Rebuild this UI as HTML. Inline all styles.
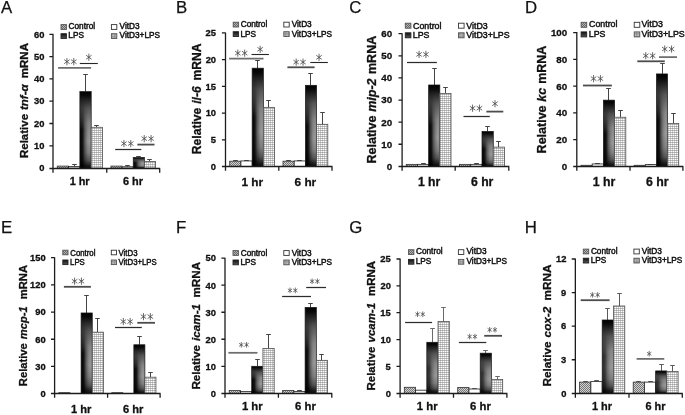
<!DOCTYPE html>
<html><head><meta charset="utf-8"><title>Figure</title>
<style>html,body{margin:0;padding:0;background:#fff}svg{display:block;will-change:transform;opacity:.999}text{white-space:pre}</style>
</head><body>
<svg width="685" height="415" viewBox="0 0 685 415">
<rect width="685" height="415" fill="#fff"/>
<defs>
<pattern id="pc" width="2" height="2" patternUnits="userSpaceOnUse"><rect width="2" height="2" fill="#d2d2d2"/><rect width="1" height="1" fill="#767676"/><rect x="1" y="1" width="1" height="1" fill="#767676"/></pattern>
<pattern id="pcl" width="2" height="2" patternUnits="userSpaceOnUse"><rect width="2" height="2" fill="#b4b4b4"/><rect width="1" height="1" fill="#666"/><rect x="1" y="1" width="1" height="1" fill="#666"/></pattern>
<pattern id="pg" width="2" height="2" patternUnits="userSpaceOnUse"><rect width="2" height="2" fill="#fff"/><rect width="2" height="1" fill="#bcbcbc"/><rect width="1" height="2" fill="#cecece"/><rect width="1" height="1" fill="#a4a4a4"/></pattern>
<pattern id="pgl" width="1.5" height="1.5" patternUnits="userSpaceOnUse"><rect width="1.5" height="1.5" fill="#ccc"/><rect width="1.5" height="0.6" fill="#8a8a8a"/><rect width="0.6" height="1.5" fill="#8a8a8a"/></pattern>
<linearGradient id="gv" x1="0" y1="0" x2="0" y2="1"><stop offset="0" stop-color="#000"/><stop offset="0.05" stop-color="#0a0a0a"/><stop offset="0.22" stop-color="#555"/><stop offset="0.42" stop-color="#868686"/><stop offset="0.65" stop-color="#989898"/><stop offset="0.8" stop-color="#808080"/><stop offset="0.9" stop-color="#555"/><stop offset="0.96" stop-color="#222"/><stop offset="1" stop-color="#0a0a0a"/></linearGradient>
<linearGradient id="gd" x1="0" y1="0" x2="1" y2="0"><stop offset="0" stop-color="#000" stop-opacity="1"/><stop offset="0.25" stop-color="#000" stop-opacity="0.85"/><stop offset="0.45" stop-color="#000" stop-opacity="0.38"/><stop offset="0.65" stop-color="#000" stop-opacity="0.1"/><stop offset="0.8" stop-color="#000" stop-opacity="0"/></linearGradient>
<linearGradient id="mkg" x1="0" y1="0" x2="0" y2="1"><stop offset="0.05" stop-color="#000"/><stop offset="0.5" stop-color="#fff"/></linearGradient>
<mask id="mk" maskContentUnits="objectBoundingBox"><rect width="1" height="1" fill="url(#mkg)"/></mask>
<linearGradient id="gl" x1="0" y1="0" x2="0" y2="1"><stop offset="0" stop-color="#111"/><stop offset="1" stop-color="#555"/></linearGradient>
</defs>
<text x="1.02" y="12.89" style="font-family:'Liberation Sans',sans-serif;font-size:16.8px" fill="#111" stroke="#111" stroke-width="0.25">A</text>
<text transform="translate(28.2,100.55) rotate(-90)" text-anchor="middle" xml:space="preserve" style="font-family:'Liberation Sans',sans-serif;font-weight:bold;font-size:11.5px" fill="#111" stroke="#111" stroke-width="0.3"><tspan>Relative </tspan><tspan font-style="italic" dx="0.74">tnf-α</tspan><tspan dx="2.95"> mRNA</tspan></text>
<rect x="57.24" y="166.09" width="11.32" height="2.01" fill="url(#pc)" stroke="#333" stroke-width="0.8"/>
<path d="M74.5 166.54 V164.5 M72.2 164.5 H76.8" stroke="#444" stroke-width="1" fill="none"/>
<rect x="68.56" y="166.54" width="11.32" height="1.56" fill="#fff" stroke="#222" stroke-width="0.8"/>
<path d="M85.5 91.61 V74.5 M83.2 74.5 H87.8" stroke="#444" stroke-width="1" fill="none"/>
<rect x="79.88" y="91.61" width="11.32" height="76.49" fill="url(#gv)"/>
<rect x="79.88" y="91.61" width="11.32" height="76.49" fill="url(#gd)" mask="url(#mk)" opacity="1"/>
<rect x="79.88" y="91.61" width="11.32" height="76.49" fill="none" stroke="#161616" stroke-width="0.7"/>
<path d="M96.5 127.29 V125.5 M94.2 125.5 H98.8" stroke="#444" stroke-width="1" fill="none"/>
<rect x="91.19" y="127.29" width="11.32" height="40.81" fill="url(#pg)" stroke="#505050" stroke-width="0.8"/>
<rect x="110.93" y="166.09" width="11.15" height="2.01" fill="url(#pc)" stroke="#333" stroke-width="0.8"/>
<path d="M127.5 166.76 V165.5 M125.2 165.5 H129.8" stroke="#444" stroke-width="1" fill="none"/>
<rect x="122.08" y="166.76" width="11.15" height="1.34" fill="#fff" stroke="#222" stroke-width="0.8"/>
<path d="M138.5 157.51 V156.5 M136.2 156.5 H140.8" stroke="#444" stroke-width="1" fill="none"/>
<rect x="133.22" y="157.51" width="11.15" height="10.59" fill="url(#gv)"/>
<rect x="133.22" y="157.51" width="11.15" height="10.59" fill="url(#gd)" mask="url(#mk)" opacity="1"/>
<rect x="133.22" y="157.51" width="11.15" height="10.59" fill="none" stroke="#161616" stroke-width="0.7"/>
<path d="M149.5 161.41 V159.5 M147.2 159.5 H151.8" stroke="#444" stroke-width="1" fill="none"/>
<rect x="144.37" y="161.41" width="11.15" height="6.69" fill="url(#pg)" stroke="#505050" stroke-width="0.8"/>
<path d="M53 33.8 V168.5 H160.2 M49.4 168.5 H53 M49.4 145.8 H53 M49.4 123.5 H53 M49.4 101.2 H53 M49.4 78.9 H53 M49.4 56.6 H53 M49.4 34.3 H53 M53 168.5 V172.8 M106.75 168.5 V172.8 M159.7 168.5 V172.8" stroke="#1c1c1c" stroke-width="1.3" fill="none"/>
<text x="39.26" y="171.39" style="font-family:'Liberation Sans',sans-serif;font-weight:bold;font-size:9.4px" fill="#111" stroke="#111" stroke-width="0.3">0</text>
<text x="34.04" y="149.09" style="font-family:'Liberation Sans',sans-serif;font-weight:bold;font-size:9.4px" fill="#111" stroke="#111" stroke-width="0.3">10</text>
<text x="34.04" y="126.79" style="font-family:'Liberation Sans',sans-serif;font-weight:bold;font-size:9.4px" fill="#111" stroke="#111" stroke-width="0.3">20</text>
<text x="34.04" y="104.49" style="font-family:'Liberation Sans',sans-serif;font-weight:bold;font-size:9.4px" fill="#111" stroke="#111" stroke-width="0.3">30</text>
<text x="34.04" y="82.19" style="font-family:'Liberation Sans',sans-serif;font-weight:bold;font-size:9.4px" fill="#111" stroke="#111" stroke-width="0.3">40</text>
<text x="34.04" y="59.89" style="font-family:'Liberation Sans',sans-serif;font-weight:bold;font-size:9.4px" fill="#111" stroke="#111" stroke-width="0.3">50</text>
<text x="34.04" y="37.59" style="font-family:'Liberation Sans',sans-serif;font-weight:bold;font-size:9.4px" fill="#111" stroke="#111" stroke-width="0.3">60</text>
<text x="69.63" y="185.1" style="font-family:'Liberation Sans',sans-serif;font-weight:bold;font-size:10.9px" fill="#111" stroke="#111" stroke-width="0.3">1 hr</text>
<text x="122.99" y="185.1" style="font-family:'Liberation Sans',sans-serif;font-weight:bold;font-size:10.9px" fill="#111" stroke="#111" stroke-width="0.3">6 hr</text>
<rect x="61" y="24.6" width="5.4" height="4.8" fill="url(#pcl)" stroke="#555" stroke-width="0.9"/>
<text x="68.59" y="29.3" style="font-family:'Liberation Sans',sans-serif;font-size:8.26px" fill="#111" stroke="#111" stroke-width="0.45">Control</text>
<rect x="111.4" y="24.6" width="5.4" height="4.8" fill="#fff" stroke="#333" stroke-width="0.9"/>
<text x="119.56" y="29.3" style="font-family:'Liberation Sans',sans-serif;font-size:8.26px" fill="#111" stroke="#111" stroke-width="0.45">VitD3</text>
<rect x="61" y="33.7" width="5.4" height="4.8" fill="url(#gl)" stroke="#222" stroke-width="0.9"/>
<text x="68.34" y="38.4" style="font-family:'Liberation Sans',sans-serif;font-size:8.26px" fill="#111" stroke="#111" stroke-width="0.45">LPS</text>
<rect x="111.4" y="33.7" width="5.4" height="4.8" fill="url(#pgl)" stroke="#555" stroke-width="0.9"/>
<text x="119.56" y="38.4" style="font-family:'Liberation Sans',sans-serif;font-size:8.26px" fill="#111" stroke="#111" stroke-width="0.45">VitD3+LPS</text>
<line x1="58.1" y1="67.85" x2="91.1" y2="67.85" stroke="#6e6e6e" stroke-width="1.75"/>
<line x1="66.92" y1="58.45" x2="66.92" y2="64.85" stroke="#484848" stroke-width="0.82" stroke-linecap="round"/><line x1="64.52" y1="59.9" x2="69.33" y2="63.4" stroke="#484848" stroke-width="0.82" stroke-linecap="round"/><line x1="69.33" y1="59.9" x2="64.52" y2="63.4" stroke="#484848" stroke-width="0.82" stroke-linecap="round"/>
<line x1="73.77" y1="58.45" x2="73.77" y2="64.85" stroke="#484848" stroke-width="0.82" stroke-linecap="round"/><line x1="71.37" y1="59.9" x2="76.18" y2="63.4" stroke="#484848" stroke-width="0.82" stroke-linecap="round"/><line x1="76.18" y1="59.9" x2="71.37" y2="63.4" stroke="#484848" stroke-width="0.82" stroke-linecap="round"/>
<line x1="79.8" y1="63.5" x2="97.8" y2="63.5" stroke="#262626" stroke-width="1.1"/>
<line x1="88.85" y1="54.05" x2="88.85" y2="60.45" stroke="#484848" stroke-width="0.82" stroke-linecap="round"/><line x1="86.44" y1="55.5" x2="91.26" y2="59" stroke="#484848" stroke-width="0.82" stroke-linecap="round"/><line x1="91.26" y1="55.5" x2="86.44" y2="59" stroke="#484848" stroke-width="0.82" stroke-linecap="round"/>
<line x1="115.2" y1="149.5" x2="141.3" y2="149.5" stroke="#2c2c2c" stroke-width="1.25"/>
<line x1="123.92" y1="140.35" x2="123.92" y2="146.75" stroke="#484848" stroke-width="0.82" stroke-linecap="round"/><line x1="121.52" y1="141.8" x2="126.33" y2="145.3" stroke="#484848" stroke-width="0.82" stroke-linecap="round"/><line x1="126.33" y1="141.8" x2="121.52" y2="145.3" stroke="#484848" stroke-width="0.82" stroke-linecap="round"/>
<line x1="130.78" y1="140.35" x2="130.78" y2="146.75" stroke="#484848" stroke-width="0.82" stroke-linecap="round"/><line x1="128.37" y1="141.8" x2="133.18" y2="145.3" stroke="#484848" stroke-width="0.82" stroke-linecap="round"/><line x1="133.18" y1="141.8" x2="128.37" y2="145.3" stroke="#484848" stroke-width="0.82" stroke-linecap="round"/>
<line x1="137.4" y1="144.6" x2="154.5" y2="144.6" stroke="#4c4c4c" stroke-width="1.8"/>
<line x1="144.22" y1="135.45" x2="144.22" y2="141.85" stroke="#484848" stroke-width="0.82" stroke-linecap="round"/><line x1="141.82" y1="136.9" x2="146.63" y2="140.4" stroke="#484848" stroke-width="0.82" stroke-linecap="round"/><line x1="146.63" y1="136.9" x2="141.82" y2="140.4" stroke="#484848" stroke-width="0.82" stroke-linecap="round"/>
<line x1="151.08" y1="135.45" x2="151.08" y2="141.85" stroke="#484848" stroke-width="0.82" stroke-linecap="round"/><line x1="148.67" y1="136.9" x2="153.48" y2="140.4" stroke="#484848" stroke-width="0.82" stroke-linecap="round"/><line x1="153.48" y1="136.9" x2="148.67" y2="140.4" stroke="#484848" stroke-width="0.82" stroke-linecap="round"/>
<text x="176.06" y="12.89" style="font-family:'Liberation Sans',sans-serif;font-size:16.8px" fill="#111" stroke="#111" stroke-width="0.25">B</text>
<text transform="translate(200.7,98.8) rotate(-90)" text-anchor="middle" xml:space="preserve" style="font-family:'Liberation Sans',sans-serif;font-weight:bold;font-size:12.1px" fill="#111" stroke="#111" stroke-width="0.3"><tspan>Relative </tspan><tspan font-style="italic" dx="0.63">il-6</tspan><tspan dx="2.51"> mRNA</tspan></text>
<path d="M235.5 161.2 V160.5 M233.2 160.5 H237.8" stroke="#444" stroke-width="1" fill="none"/>
<rect x="229.71" y="161.2" width="11.22" height="5.35" fill="url(#pc)" stroke="#333" stroke-width="0.8"/>
<path d="M246.5 160.94 V160.5 M244.2 160.5 H248.8" stroke="#444" stroke-width="1" fill="none"/>
<rect x="240.93" y="160.94" width="11.22" height="5.61" fill="#fff" stroke="#222" stroke-width="0.8"/>
<path d="M257.5 68.18 V60.5 M255.2 60.5 H259.8" stroke="#444" stroke-width="1" fill="none"/>
<rect x="252.15" y="68.18" width="11.22" height="98.37" fill="url(#gv)"/>
<rect x="252.15" y="68.18" width="11.22" height="98.37" fill="url(#gd)" mask="url(#mk)" opacity="1"/>
<rect x="252.15" y="68.18" width="11.22" height="98.37" fill="none" stroke="#161616" stroke-width="0.7"/>
<path d="M268.5 107.37 V100.5 M266.2 100.5 H270.8" stroke="#444" stroke-width="1" fill="none"/>
<rect x="263.37" y="107.37" width="11.22" height="59.18" fill="url(#pg)" stroke="#505050" stroke-width="0.8"/>
<path d="M288.5 161.2 V160.5 M286.2 160.5 H290.8" stroke="#444" stroke-width="1" fill="none"/>
<rect x="283" y="161.2" width="11.2" height="5.35" fill="url(#pc)" stroke="#333" stroke-width="0.8"/>
<path d="M299.5 160.94 V160.5 M297.2 160.5 H301.8" stroke="#444" stroke-width="1" fill="none"/>
<rect x="294.2" y="160.94" width="11.2" height="5.61" fill="#fff" stroke="#222" stroke-width="0.8"/>
<path d="M310.5 85.29 V73.5 M308.2 73.5 H312.8" stroke="#444" stroke-width="1" fill="none"/>
<rect x="305.4" y="85.29" width="11.2" height="81.26" fill="url(#gv)"/>
<rect x="305.4" y="85.29" width="11.2" height="81.26" fill="url(#gd)" mask="url(#mk)" opacity="1"/>
<rect x="305.4" y="85.29" width="11.2" height="81.26" fill="none" stroke="#161616" stroke-width="0.7"/>
<path d="M322.5 124.32 V112.5 M320.2 112.5 H324.8" stroke="#444" stroke-width="1" fill="none"/>
<rect x="316.6" y="124.32" width="11.2" height="42.23" fill="url(#pg)" stroke="#505050" stroke-width="0.8"/>
<path d="M225.5 32.4 V166.5 H332.5 M221.9 166.5 H225.5 M221.9 139.82 H225.5 M221.9 113.09 H225.5 M221.9 86.36 H225.5 M221.9 59.63 H225.5 M221.9 32.9 H225.5 M225.5 166.5 V170.8 M278.8 166.5 V170.8 M332 166.5 V170.8" stroke="#1c1c1c" stroke-width="1.3" fill="none"/>
<text x="210.86" y="169.84" style="font-family:'Liberation Sans',sans-serif;font-weight:bold;font-size:9.4px" fill="#111" stroke="#111" stroke-width="0.3">0</text>
<text x="210.72" y="143.11" style="font-family:'Liberation Sans',sans-serif;font-weight:bold;font-size:9.4px" fill="#111" stroke="#111" stroke-width="0.3">5</text>
<text x="205.64" y="116.38" style="font-family:'Liberation Sans',sans-serif;font-weight:bold;font-size:9.4px" fill="#111" stroke="#111" stroke-width="0.3">10</text>
<text x="205.5" y="89.65" style="font-family:'Liberation Sans',sans-serif;font-weight:bold;font-size:9.4px" fill="#111" stroke="#111" stroke-width="0.3">15</text>
<text x="205.64" y="62.92" style="font-family:'Liberation Sans',sans-serif;font-weight:bold;font-size:9.4px" fill="#111" stroke="#111" stroke-width="0.3">20</text>
<text x="205.5" y="36.19" style="font-family:'Liberation Sans',sans-serif;font-weight:bold;font-size:9.4px" fill="#111" stroke="#111" stroke-width="0.3">25</text>
<text x="241.48" y="186.16" style="font-family:'Liberation Sans',sans-serif;font-weight:bold;font-size:11.8px" fill="#111" stroke="#111" stroke-width="0.3">1 hr</text>
<text x="294.56" y="186.16" style="font-family:'Liberation Sans',sans-serif;font-weight:bold;font-size:11.8px" fill="#111" stroke="#111" stroke-width="0.3">6 hr</text>
<rect x="233.2" y="22.2" width="5.4" height="4.8" fill="url(#pcl)" stroke="#555" stroke-width="0.9"/>
<text x="240.69" y="26.9" style="font-family:'Liberation Sans',sans-serif;font-size:8.26px" fill="#111" stroke="#111" stroke-width="0.45">Control</text>
<rect x="283.8" y="22.2" width="5.4" height="4.8" fill="#fff" stroke="#333" stroke-width="0.9"/>
<text x="291.66" y="26.9" style="font-family:'Liberation Sans',sans-serif;font-size:8.26px" fill="#111" stroke="#111" stroke-width="0.45">VitD3</text>
<rect x="233.2" y="31.7" width="5.4" height="4.8" fill="url(#gl)" stroke="#222" stroke-width="0.9"/>
<text x="240.44" y="36.5" style="font-family:'Liberation Sans',sans-serif;font-size:8.26px" fill="#111" stroke="#111" stroke-width="0.45">LPS</text>
<rect x="283.8" y="31.7" width="5.4" height="4.8" fill="url(#pgl)" stroke="#555" stroke-width="0.9"/>
<text x="291.66" y="36.5" style="font-family:'Liberation Sans',sans-serif;font-size:8.26px" fill="#111" stroke="#111" stroke-width="0.45">VitD3+LPS</text>
<line x1="229.1" y1="58.7" x2="263.5" y2="58.7" stroke="#6e6e6e" stroke-width="1.75"/>
<line x1="237.82" y1="49.95" x2="237.82" y2="56.35" stroke="#484848" stroke-width="0.82" stroke-linecap="round"/><line x1="235.42" y1="51.4" x2="240.23" y2="54.9" stroke="#484848" stroke-width="0.82" stroke-linecap="round"/><line x1="240.23" y1="51.4" x2="235.42" y2="54.9" stroke="#484848" stroke-width="0.82" stroke-linecap="round"/>
<line x1="244.68" y1="49.95" x2="244.68" y2="56.35" stroke="#484848" stroke-width="0.82" stroke-linecap="round"/><line x1="242.27" y1="51.4" x2="247.08" y2="54.9" stroke="#484848" stroke-width="0.82" stroke-linecap="round"/><line x1="247.08" y1="51.4" x2="242.27" y2="54.9" stroke="#484848" stroke-width="0.82" stroke-linecap="round"/>
<line x1="251.5" y1="54.5" x2="268.9" y2="54.5" stroke="#262626" stroke-width="1.1"/>
<line x1="260.15" y1="46.1" x2="260.15" y2="52.5" stroke="#484848" stroke-width="0.82" stroke-linecap="round"/><line x1="257.74" y1="47.55" x2="262.56" y2="51.05" stroke="#484848" stroke-width="0.82" stroke-linecap="round"/><line x1="262.56" y1="47.55" x2="257.74" y2="51.05" stroke="#484848" stroke-width="0.82" stroke-linecap="round"/>
<line x1="287.4" y1="67.3" x2="314.6" y2="67.3" stroke="#4c4c4c" stroke-width="1.8"/>
<line x1="296.18" y1="58.95" x2="296.18" y2="65.35" stroke="#484848" stroke-width="0.82" stroke-linecap="round"/><line x1="293.77" y1="60.4" x2="298.58" y2="63.9" stroke="#484848" stroke-width="0.82" stroke-linecap="round"/><line x1="298.58" y1="60.4" x2="293.77" y2="63.9" stroke="#484848" stroke-width="0.82" stroke-linecap="round"/>
<line x1="303.03" y1="58.95" x2="303.03" y2="65.35" stroke="#484848" stroke-width="0.82" stroke-linecap="round"/><line x1="300.62" y1="60.4" x2="305.43" y2="63.9" stroke="#484848" stroke-width="0.82" stroke-linecap="round"/><line x1="305.43" y1="60.4" x2="300.62" y2="63.9" stroke="#484848" stroke-width="0.82" stroke-linecap="round"/>
<line x1="310.3" y1="62.5" x2="327.9" y2="62.5" stroke="#262626" stroke-width="1.1"/>
<line x1="319.05" y1="54.15" x2="319.05" y2="60.55" stroke="#484848" stroke-width="0.82" stroke-linecap="round"/><line x1="316.64" y1="55.6" x2="321.46" y2="59.1" stroke="#484848" stroke-width="0.82" stroke-linecap="round"/><line x1="321.46" y1="55.6" x2="316.64" y2="59.1" stroke="#484848" stroke-width="0.82" stroke-linecap="round"/>
<text x="349.16" y="12.86" style="font-family:'Liberation Sans',sans-serif;font-size:16.8px" fill="#111" stroke="#111" stroke-width="0.25">C</text>
<text transform="translate(376.2,99.65) rotate(-90)" text-anchor="middle" xml:space="preserve" style="font-family:'Liberation Sans',sans-serif;font-weight:bold;font-size:12.5px" fill="#111" stroke="#111" stroke-width="0.3"><tspan>Relative </tspan><tspan font-style="italic" dx="0.25">mip-2</tspan><tspan dx="1"> mRNA</tspan></text>
<rect x="406.29" y="164.36" width="11.18" height="1.99" fill="url(#pc)" stroke="#333" stroke-width="0.8"/>
<path d="M423.5 164.36 V163.5 M421.2 163.5 H425.8" stroke="#444" stroke-width="1" fill="none"/>
<rect x="417.47" y="164.36" width="11.18" height="1.99" fill="#fff" stroke="#222" stroke-width="0.8"/>
<path d="M434.5 84.99 V68.5 M432.2 68.5 H436.8" stroke="#444" stroke-width="1" fill="none"/>
<rect x="428.65" y="84.99" width="11.18" height="81.36" fill="url(#gv)"/>
<rect x="428.65" y="84.99" width="11.18" height="81.36" fill="url(#gd)" mask="url(#mk)" opacity="1"/>
<rect x="428.65" y="84.99" width="11.18" height="81.36" fill="none" stroke="#161616" stroke-width="0.7"/>
<path d="M445.5 93.39 V87.5 M443.2 87.5 H447.8" stroke="#444" stroke-width="1" fill="none"/>
<rect x="439.83" y="93.39" width="11.18" height="72.96" fill="url(#pg)" stroke="#505050" stroke-width="0.8"/>
<rect x="459.43" y="164.36" width="11.28" height="1.99" fill="url(#pc)" stroke="#333" stroke-width="0.8"/>
<path d="M476.5 164.36 V163.5 M474.2 163.5 H478.8" stroke="#444" stroke-width="1" fill="none"/>
<rect x="470.72" y="164.36" width="11.28" height="1.99" fill="#fff" stroke="#222" stroke-width="0.8"/>
<path d="M487.5 131.42 V126.5 M485.2 126.5 H489.8" stroke="#444" stroke-width="1" fill="none"/>
<rect x="482" y="131.42" width="11.28" height="34.93" fill="url(#gv)"/>
<rect x="482" y="131.42" width="11.28" height="34.93" fill="url(#gd)" mask="url(#mk)" opacity="1"/>
<rect x="482" y="131.42" width="11.28" height="34.93" fill="none" stroke="#161616" stroke-width="0.7"/>
<path d="M498.5 147.12 V141.5 M496.2 141.5 H500.8" stroke="#444" stroke-width="1" fill="none"/>
<rect x="493.28" y="147.12" width="11.28" height="19.23" fill="url(#pg)" stroke="#505050" stroke-width="0.8"/>
<path d="M402.1 33.2 V166.5 H509.3 M398.5 166.5 H402.1 M398.5 144.24 H402.1 M398.5 122.13 H402.1 M398.5 100.03 H402.1 M398.5 77.92 H402.1 M398.5 55.81 H402.1 M398.5 33.7 H402.1 M402.1 166.5 V170.8 M455.2 166.5 V170.8 M508.8 166.5 V170.8" stroke="#1c1c1c" stroke-width="1.3" fill="none"/>
<text x="386.75" y="169.78" style="font-family:'Liberation Sans',sans-serif;font-weight:bold;font-size:9.8px" fill="#111" stroke="#111" stroke-width="0.3">0</text>
<text x="381.31" y="147.67" style="font-family:'Liberation Sans',sans-serif;font-weight:bold;font-size:9.8px" fill="#111" stroke="#111" stroke-width="0.3">10</text>
<text x="381.31" y="125.56" style="font-family:'Liberation Sans',sans-serif;font-weight:bold;font-size:9.8px" fill="#111" stroke="#111" stroke-width="0.3">20</text>
<text x="381.31" y="103.46" style="font-family:'Liberation Sans',sans-serif;font-weight:bold;font-size:9.8px" fill="#111" stroke="#111" stroke-width="0.3">30</text>
<text x="381.31" y="81.35" style="font-family:'Liberation Sans',sans-serif;font-weight:bold;font-size:9.8px" fill="#111" stroke="#111" stroke-width="0.3">40</text>
<text x="381.31" y="59.24" style="font-family:'Liberation Sans',sans-serif;font-weight:bold;font-size:9.8px" fill="#111" stroke="#111" stroke-width="0.3">50</text>
<text x="381.31" y="37.13" style="font-family:'Liberation Sans',sans-serif;font-weight:bold;font-size:9.8px" fill="#111" stroke="#111" stroke-width="0.3">60</text>
<text x="417.9" y="186.15" style="font-family:'Liberation Sans',sans-serif;font-weight:bold;font-size:12.2px" fill="#111" stroke="#111" stroke-width="0.3">1 hr</text>
<text x="470.98" y="186.15" style="font-family:'Liberation Sans',sans-serif;font-weight:bold;font-size:12.2px" fill="#111" stroke="#111" stroke-width="0.3">6 hr</text>
<rect x="405.3" y="23.2" width="5.6" height="5" fill="url(#pcl)" stroke="#555" stroke-width="0.9"/>
<text x="413.06" y="28.5" style="font-family:'Liberation Sans',sans-serif;font-size:8.82px" fill="#111" stroke="#111" stroke-width="0.45">Control</text>
<rect x="458.5" y="23.2" width="5.6" height="5" fill="#fff" stroke="#333" stroke-width="0.9"/>
<text x="466.36" y="28.5" style="font-family:'Liberation Sans',sans-serif;font-size:8.82px" fill="#111" stroke="#111" stroke-width="0.45">VitD3</text>
<rect x="405.3" y="32.8" width="5.6" height="5" fill="url(#gl)" stroke="#222" stroke-width="0.9"/>
<text x="412.79" y="37.9" style="font-family:'Liberation Sans',sans-serif;font-size:8.82px" fill="#111" stroke="#111" stroke-width="0.45">LPS</text>
<rect x="458.5" y="32.8" width="5.6" height="5" fill="url(#pgl)" stroke="#555" stroke-width="0.9"/>
<text x="466.36" y="37.9" style="font-family:'Liberation Sans',sans-serif;font-size:8.82px" fill="#111" stroke="#111" stroke-width="0.45">VitD3+LPS</text>
<line x1="407" y1="62.5" x2="436.9" y2="62.5" stroke="#2c2c2c" stroke-width="1.25"/>
<line x1="419.07" y1="51.2" x2="419.07" y2="57.6" stroke="#484848" stroke-width="0.82" stroke-linecap="round"/><line x1="416.67" y1="52.65" x2="421.48" y2="56.15" stroke="#484848" stroke-width="0.82" stroke-linecap="round"/><line x1="421.48" y1="52.65" x2="416.67" y2="56.15" stroke="#484848" stroke-width="0.82" stroke-linecap="round"/>
<line x1="425.93" y1="51.2" x2="425.93" y2="57.6" stroke="#484848" stroke-width="0.82" stroke-linecap="round"/><line x1="423.52" y1="52.65" x2="428.33" y2="56.15" stroke="#484848" stroke-width="0.82" stroke-linecap="round"/><line x1="428.33" y1="52.65" x2="423.52" y2="56.15" stroke="#484848" stroke-width="0.82" stroke-linecap="round"/>
<line x1="463.5" y1="116.5" x2="489.8" y2="116.5" stroke="#2c2c2c" stroke-width="1.25"/>
<line x1="472.57" y1="105" x2="472.57" y2="111.4" stroke="#484848" stroke-width="0.82" stroke-linecap="round"/><line x1="470.17" y1="106.45" x2="474.98" y2="109.95" stroke="#484848" stroke-width="0.82" stroke-linecap="round"/><line x1="474.98" y1="106.45" x2="470.17" y2="109.95" stroke="#484848" stroke-width="0.82" stroke-linecap="round"/>
<line x1="479.43" y1="105" x2="479.43" y2="111.4" stroke="#484848" stroke-width="0.82" stroke-linecap="round"/><line x1="477.02" y1="106.45" x2="481.83" y2="109.95" stroke="#484848" stroke-width="0.82" stroke-linecap="round"/><line x1="481.83" y1="106.45" x2="477.02" y2="109.95" stroke="#484848" stroke-width="0.82" stroke-linecap="round"/>
<line x1="486.4" y1="111.6" x2="503.3" y2="111.6" stroke="#4c4c4c" stroke-width="1.8"/>
<line x1="495" y1="100.5" x2="495" y2="106.9" stroke="#484848" stroke-width="0.82" stroke-linecap="round"/><line x1="492.59" y1="101.95" x2="497.41" y2="105.45" stroke="#484848" stroke-width="0.82" stroke-linecap="round"/><line x1="497.41" y1="101.95" x2="492.59" y2="105.45" stroke="#484848" stroke-width="0.82" stroke-linecap="round"/>
<text x="524.96" y="12.89" style="font-family:'Liberation Sans',sans-serif;font-size:16.8px" fill="#111" stroke="#111" stroke-width="0.25">D</text>
<text transform="translate(546,99.5) rotate(-90)" text-anchor="middle" xml:space="preserve" style="font-family:'Liberation Sans',sans-serif;font-weight:bold;font-size:12.5px" fill="#111" stroke="#111" stroke-width="0.3"><tspan>Relative </tspan><tspan font-style="italic" dx="0.16">kc</tspan><tspan dx="0.62"> mRNA</tspan></text>
<rect x="581" y="165.28" width="11.2" height="1.07" fill="url(#pc)" stroke="#333" stroke-width="0.8"/>
<path d="M597.5 163.94 V163.5 M595.2 163.5 H599.8" stroke="#444" stroke-width="1" fill="none"/>
<rect x="592.2" y="163.94" width="11.2" height="2.41" fill="#fff" stroke="#222" stroke-width="0.8"/>
<path d="M608.5 100.14 V88.5 M606.2 88.5 H610.8" stroke="#444" stroke-width="1" fill="none"/>
<rect x="603.4" y="100.14" width="11.2" height="66.21" fill="url(#gv)"/>
<rect x="603.4" y="100.14" width="11.2" height="66.21" fill="url(#gd)" mask="url(#mk)" opacity="1"/>
<rect x="603.4" y="100.14" width="11.2" height="66.21" fill="none" stroke="#161616" stroke-width="0.7"/>
<path d="M620.5 117.26 V110.5 M618.2 110.5 H622.8" stroke="#444" stroke-width="1" fill="none"/>
<rect x="614.6" y="117.26" width="11.2" height="49.09" fill="url(#pg)" stroke="#505050" stroke-width="0.8"/>
<rect x="634.18" y="165.28" width="11.14" height="1.07" fill="url(#pc)" stroke="#333" stroke-width="0.8"/>
<path d="M650.5 164.61 V164.5 M648.2 164.5 H652.8" stroke="#444" stroke-width="1" fill="none"/>
<rect x="645.31" y="164.61" width="11.14" height="1.74" fill="#fff" stroke="#222" stroke-width="0.8"/>
<path d="M662.5 73.93 V63.5 M660.2 63.5 H664.8" stroke="#444" stroke-width="1" fill="none"/>
<rect x="656.45" y="73.93" width="11.14" height="92.42" fill="url(#gv)"/>
<rect x="656.45" y="73.93" width="11.14" height="92.42" fill="url(#gd)" mask="url(#mk)" opacity="1"/>
<rect x="656.45" y="73.93" width="11.14" height="92.42" fill="none" stroke="#161616" stroke-width="0.7"/>
<path d="M673.5 123.42 V113.5 M671.2 113.5 H675.8" stroke="#444" stroke-width="1" fill="none"/>
<rect x="667.59" y="123.42" width="11.14" height="42.93" fill="url(#pg)" stroke="#505050" stroke-width="0.8"/>
<path d="M576.8 32.1 V166.5 H683.4 M573.2 166.5 H576.8 M573.2 139.6 H576.8 M573.2 112.85 H576.8 M573.2 86.1 H576.8 M573.2 59.35 H576.8 M573.2 32.6 H576.8 M576.8 166.5 V170.8 M630 166.5 V170.8 M682.9 166.5 V170.8" stroke="#1c1c1c" stroke-width="1.3" fill="none"/>
<text x="561.75" y="169.78" style="font-family:'Liberation Sans',sans-serif;font-weight:bold;font-size:9.8px" fill="#111" stroke="#111" stroke-width="0.3">0</text>
<text x="556.31" y="143.03" style="font-family:'Liberation Sans',sans-serif;font-weight:bold;font-size:9.8px" fill="#111" stroke="#111" stroke-width="0.3">20</text>
<text x="556.31" y="116.28" style="font-family:'Liberation Sans',sans-serif;font-weight:bold;font-size:9.8px" fill="#111" stroke="#111" stroke-width="0.3">40</text>
<text x="556.31" y="89.53" style="font-family:'Liberation Sans',sans-serif;font-weight:bold;font-size:9.8px" fill="#111" stroke="#111" stroke-width="0.3">60</text>
<text x="556.31" y="62.78" style="font-family:'Liberation Sans',sans-serif;font-weight:bold;font-size:9.8px" fill="#111" stroke="#111" stroke-width="0.3">80</text>
<text x="550.88" y="36.03" style="font-family:'Liberation Sans',sans-serif;font-weight:bold;font-size:9.8px" fill="#111" stroke="#111" stroke-width="0.3">100</text>
<text x="592.81" y="186.22" style="font-family:'Liberation Sans',sans-serif;font-weight:bold;font-size:12.3px" fill="#111" stroke="#111" stroke-width="0.3">1 hr</text>
<text x="645.89" y="186.22" style="font-family:'Liberation Sans',sans-serif;font-weight:bold;font-size:12.3px" fill="#111" stroke="#111" stroke-width="0.3">6 hr</text>
<rect x="581.1" y="22.3" width="5.6" height="5" fill="url(#pcl)" stroke="#555" stroke-width="0.9"/>
<text x="589.06" y="27.2" style="font-family:'Liberation Sans',sans-serif;font-size:8.82px" fill="#111" stroke="#111" stroke-width="0.45">Control</text>
<rect x="634.2" y="22.3" width="5.6" height="5" fill="#fff" stroke="#333" stroke-width="0.9"/>
<text x="641.56" y="27.2" style="font-family:'Liberation Sans',sans-serif;font-size:8.82px" fill="#111" stroke="#111" stroke-width="0.45">VitD3</text>
<rect x="581.1" y="31.9" width="5.6" height="5" fill="url(#gl)" stroke="#222" stroke-width="0.9"/>
<text x="588.79" y="36.9" style="font-family:'Liberation Sans',sans-serif;font-size:8.82px" fill="#111" stroke="#111" stroke-width="0.45">LPS</text>
<rect x="634.2" y="31.9" width="5.6" height="5" fill="url(#pgl)" stroke="#555" stroke-width="0.9"/>
<text x="641.56" y="36.9" style="font-family:'Liberation Sans',sans-serif;font-size:8.82px" fill="#111" stroke="#111" stroke-width="0.45">VitD3+LPS</text>
<line x1="583" y1="85.5" x2="611.9" y2="85.5" stroke="#4c4c4c" stroke-width="1.8"/>
<line x1="593.58" y1="75.45" x2="593.58" y2="81.85" stroke="#484848" stroke-width="0.82" stroke-linecap="round"/><line x1="591.17" y1="76.9" x2="595.98" y2="80.4" stroke="#484848" stroke-width="0.82" stroke-linecap="round"/><line x1="595.98" y1="76.9" x2="591.17" y2="80.4" stroke="#484848" stroke-width="0.82" stroke-linecap="round"/>
<line x1="600.42" y1="75.45" x2="600.42" y2="81.85" stroke="#484848" stroke-width="0.82" stroke-linecap="round"/><line x1="598.02" y1="76.9" x2="602.83" y2="80.4" stroke="#484848" stroke-width="0.82" stroke-linecap="round"/><line x1="602.83" y1="76.9" x2="598.02" y2="80.4" stroke="#484848" stroke-width="0.82" stroke-linecap="round"/>
<line x1="637.3" y1="61.3" x2="664.8" y2="61.3" stroke="#4c4c4c" stroke-width="1.8"/>
<line x1="645.78" y1="52.55" x2="645.78" y2="58.95" stroke="#484848" stroke-width="0.82" stroke-linecap="round"/><line x1="643.37" y1="54" x2="648.18" y2="57.5" stroke="#484848" stroke-width="0.82" stroke-linecap="round"/><line x1="648.18" y1="54" x2="643.37" y2="57.5" stroke="#484848" stroke-width="0.82" stroke-linecap="round"/>
<line x1="652.62" y1="52.55" x2="652.62" y2="58.95" stroke="#484848" stroke-width="0.82" stroke-linecap="round"/><line x1="650.22" y1="54" x2="655.03" y2="57.5" stroke="#484848" stroke-width="0.82" stroke-linecap="round"/><line x1="655.03" y1="54" x2="650.22" y2="57.5" stroke="#484848" stroke-width="0.82" stroke-linecap="round"/>
<line x1="659" y1="57.1" x2="677" y2="57.1" stroke="#6e6e6e" stroke-width="1.75"/>
<line x1="664.73" y1="45.85" x2="664.73" y2="52.25" stroke="#484848" stroke-width="0.82" stroke-linecap="round"/><line x1="662.32" y1="47.3" x2="667.13" y2="50.8" stroke="#484848" stroke-width="0.82" stroke-linecap="round"/><line x1="667.13" y1="47.3" x2="662.32" y2="50.8" stroke="#484848" stroke-width="0.82" stroke-linecap="round"/>
<line x1="671.57" y1="45.85" x2="671.57" y2="52.25" stroke="#484848" stroke-width="0.82" stroke-linecap="round"/><line x1="669.17" y1="47.3" x2="673.98" y2="50.8" stroke="#484848" stroke-width="0.82" stroke-linecap="round"/><line x1="673.98" y1="47.3" x2="669.17" y2="50.8" stroke="#484848" stroke-width="0.82" stroke-linecap="round"/>
<text x="1.06" y="232.89" style="font-family:'Liberation Sans',sans-serif;font-size:16.8px" fill="#111" stroke="#111" stroke-width="0.25">E</text>
<text transform="translate(27,325.6) rotate(-90)" text-anchor="middle" xml:space="preserve" style="font-family:'Liberation Sans',sans-serif;font-weight:bold;font-size:11.2px" fill="#111" stroke="#111" stroke-width="0.3"><tspan>Relative </tspan><tspan font-style="italic" dx="0.97">mcp-1</tspan><tspan dx="3.88"> mRNA</tspan></text>
<rect x="58.78" y="392.69" width="11.16" height="0.91" fill="url(#pc)" stroke="#333" stroke-width="0.8"/>
<path d="M86.5 312.97 V295.5 M84.2 295.5 H88.8" stroke="#444" stroke-width="1" fill="none"/>
<rect x="81.1" y="312.97" width="11.16" height="80.63" fill="url(#gv)"/>
<rect x="81.1" y="312.97" width="11.16" height="80.63" fill="url(#gd)" mask="url(#mk)" opacity="1"/>
<rect x="81.1" y="312.97" width="11.16" height="80.63" fill="none" stroke="#161616" stroke-width="0.7"/>
<path d="M97.5 332.17 V318.5 M95.2 318.5 H99.8" stroke="#444" stroke-width="1" fill="none"/>
<rect x="92.26" y="332.17" width="11.16" height="61.43" fill="url(#pg)" stroke="#505050" stroke-width="0.8"/>
<rect x="111.74" y="392.69" width="11.05" height="0.91" fill="url(#pc)" stroke="#333" stroke-width="0.8"/>
<path d="M139.5 344.77 V336.5 M137.2 336.5 H141.8" stroke="#444" stroke-width="1" fill="none"/>
<rect x="133.85" y="344.77" width="11.05" height="48.83" fill="url(#gv)"/>
<rect x="133.85" y="344.77" width="11.05" height="48.83" fill="url(#gd)" mask="url(#mk)" opacity="1"/>
<rect x="133.85" y="344.77" width="11.05" height="48.83" fill="none" stroke="#161616" stroke-width="0.7"/>
<path d="M150.5 377.2 V372.5 M148.2 372.5 H152.8" stroke="#444" stroke-width="1" fill="none"/>
<rect x="144.9" y="377.2" width="11.05" height="16.4" fill="url(#pg)" stroke="#505050" stroke-width="0.8"/>
<path d="M54.6 257.2 V393.5 H160.6 M51 393.5 H54.6 M51 366.42 H54.6 M51 339.24 H54.6 M51 312.06 H54.6 M51 284.88 H54.6 M51 257.7 H54.6 M54.6 393.5 V397.8 M107.6 393.5 V397.8 M160.1 393.5 V397.8" stroke="#1c1c1c" stroke-width="1.3" fill="none"/>
<text x="40.56" y="396.89" style="font-family:'Liberation Sans',sans-serif;font-weight:bold;font-size:9.4px" fill="#111" stroke="#111" stroke-width="0.3">0</text>
<text x="35.34" y="369.71" style="font-family:'Liberation Sans',sans-serif;font-weight:bold;font-size:9.4px" fill="#111" stroke="#111" stroke-width="0.3">30</text>
<text x="35.34" y="342.53" style="font-family:'Liberation Sans',sans-serif;font-weight:bold;font-size:9.4px" fill="#111" stroke="#111" stroke-width="0.3">60</text>
<text x="35.34" y="315.35" style="font-family:'Liberation Sans',sans-serif;font-weight:bold;font-size:9.4px" fill="#111" stroke="#111" stroke-width="0.3">90</text>
<text x="30.12" y="288.17" style="font-family:'Liberation Sans',sans-serif;font-weight:bold;font-size:9.4px" fill="#111" stroke="#111" stroke-width="0.3">120</text>
<text x="30.12" y="260.99" style="font-family:'Liberation Sans',sans-serif;font-weight:bold;font-size:9.4px" fill="#111" stroke="#111" stroke-width="0.3">150</text>
<text x="70.89" y="413.45" style="font-family:'Liberation Sans',sans-serif;font-weight:bold;font-size:11.1px" fill="#111" stroke="#111" stroke-width="0.3">1 hr</text>
<text x="123.1" y="413.45" style="font-family:'Liberation Sans',sans-serif;font-weight:bold;font-size:11.1px" fill="#111" stroke="#111" stroke-width="0.3">6 hr</text>
<rect x="62.8" y="250.2" width="5.2" height="4.6" fill="url(#pcl)" stroke="#555" stroke-width="0.9"/>
<text transform="translate(70.31,255.5) scale(0.91,1)" style="font-family:'Liberation Sans',sans-serif;font-size:8.57px" fill="#111" stroke="#111" stroke-width="0.45">Control</text>
<rect x="111.3" y="250.2" width="5.2" height="4.6" fill="#fff" stroke="#333" stroke-width="0.9"/>
<text transform="translate(118.56,255.5) scale(0.91,1)" style="font-family:'Liberation Sans',sans-serif;font-size:8.57px" fill="#111" stroke="#111" stroke-width="0.45">VitD3</text>
<rect x="62.8" y="260" width="5.2" height="4.6" fill="url(#gl)" stroke="#222" stroke-width="0.9"/>
<text transform="translate(70.08,265) scale(0.91,1)" style="font-family:'Liberation Sans',sans-serif;font-size:8.57px" fill="#111" stroke="#111" stroke-width="0.45">LPS</text>
<rect x="111.3" y="260" width="5.2" height="4.6" fill="url(#pgl)" stroke="#555" stroke-width="0.9"/>
<text transform="translate(118.56,265) scale(0.91,1)" style="font-family:'Liberation Sans',sans-serif;font-size:8.57px" fill="#111" stroke="#111" stroke-width="0.45">VitD3+LPS</text>
<line x1="63.9" y1="286.8" x2="90.9" y2="286.8" stroke="#4c4c4c" stroke-width="1.8"/>
<line x1="74.58" y1="278" x2="74.58" y2="284.4" stroke="#484848" stroke-width="0.82" stroke-linecap="round"/><line x1="72.17" y1="279.45" x2="76.98" y2="282.95" stroke="#484848" stroke-width="0.82" stroke-linecap="round"/><line x1="76.98" y1="279.45" x2="72.17" y2="282.95" stroke="#484848" stroke-width="0.82" stroke-linecap="round"/>
<line x1="81.42" y1="278" x2="81.42" y2="284.4" stroke="#484848" stroke-width="0.82" stroke-linecap="round"/><line x1="79.02" y1="279.45" x2="83.83" y2="282.95" stroke="#484848" stroke-width="0.82" stroke-linecap="round"/><line x1="83.83" y1="279.45" x2="79.02" y2="282.95" stroke="#484848" stroke-width="0.82" stroke-linecap="round"/>
<line x1="115" y1="327.5" x2="141.8" y2="327.5" stroke="#2c2c2c" stroke-width="1.25"/>
<line x1="123.33" y1="318.35" x2="123.33" y2="324.75" stroke="#484848" stroke-width="0.82" stroke-linecap="round"/><line x1="120.92" y1="319.8" x2="125.73" y2="323.3" stroke="#484848" stroke-width="0.82" stroke-linecap="round"/><line x1="125.73" y1="319.8" x2="120.92" y2="323.3" stroke="#484848" stroke-width="0.82" stroke-linecap="round"/>
<line x1="130.18" y1="318.35" x2="130.18" y2="324.75" stroke="#484848" stroke-width="0.82" stroke-linecap="round"/><line x1="127.77" y1="319.8" x2="132.58" y2="323.3" stroke="#484848" stroke-width="0.82" stroke-linecap="round"/><line x1="132.58" y1="319.8" x2="127.77" y2="323.3" stroke="#484848" stroke-width="0.82" stroke-linecap="round"/>
<line x1="137.3" y1="322.8" x2="155" y2="322.8" stroke="#4c4c4c" stroke-width="1.8"/>
<line x1="143.47" y1="313.45" x2="143.47" y2="319.85" stroke="#484848" stroke-width="0.82" stroke-linecap="round"/><line x1="141.07" y1="314.9" x2="145.88" y2="318.4" stroke="#484848" stroke-width="0.82" stroke-linecap="round"/><line x1="145.88" y1="314.9" x2="141.07" y2="318.4" stroke="#484848" stroke-width="0.82" stroke-linecap="round"/>
<line x1="150.33" y1="313.45" x2="150.33" y2="319.85" stroke="#484848" stroke-width="0.82" stroke-linecap="round"/><line x1="147.92" y1="314.9" x2="152.73" y2="318.4" stroke="#484848" stroke-width="0.82" stroke-linecap="round"/><line x1="152.73" y1="314.9" x2="147.92" y2="318.4" stroke="#484848" stroke-width="0.82" stroke-linecap="round"/>
<text x="176.06" y="232.89" style="font-family:'Liberation Sans',sans-serif;font-size:16.8px" fill="#111" stroke="#111" stroke-width="0.25">F</text>
<text transform="translate(200.1,325.75) rotate(-90)" text-anchor="middle" xml:space="preserve" style="font-family:'Liberation Sans',sans-serif;font-weight:bold;font-size:11.65px" fill="#111" stroke="#111" stroke-width="0.3"><tspan>Relative </tspan><tspan font-style="italic" dx="0.82">icam-1</tspan><tspan dx="3.3"> mRNA</tspan></text>
<rect x="229.22" y="390.41" width="11.24" height="2.89" fill="url(#pc)" stroke="#333" stroke-width="0.8"/>
<rect x="240.46" y="391.41" width="11.24" height="1.89" fill="#fff" stroke="#222" stroke-width="0.8"/>
<path d="M257.5 366.28 V359.5 M255.2 359.5 H259.8" stroke="#444" stroke-width="1" fill="none"/>
<rect x="251.7" y="366.28" width="11.24" height="27.02" fill="url(#gv)"/>
<rect x="251.7" y="366.28" width="11.24" height="27.02" fill="url(#gd)" mask="url(#mk)" opacity="1"/>
<rect x="251.7" y="366.28" width="11.24" height="27.02" fill="none" stroke="#161616" stroke-width="0.7"/>
<path d="M268.5 348.45 V334.5 M266.2 334.5 H270.8" stroke="#444" stroke-width="1" fill="none"/>
<rect x="262.94" y="348.45" width="11.24" height="44.85" fill="url(#pg)" stroke="#505050" stroke-width="0.8"/>
<rect x="282.62" y="390.41" width="11.24" height="2.89" fill="url(#pc)" stroke="#333" stroke-width="0.8"/>
<path d="M299.5 391.41 V390.5 M297.2 390.5 H301.8" stroke="#444" stroke-width="1" fill="none"/>
<rect x="293.86" y="391.41" width="11.24" height="1.89" fill="#fff" stroke="#222" stroke-width="0.8"/>
<path d="M310.5 307.38 V303.5 M308.2 303.5 H312.8" stroke="#444" stroke-width="1" fill="none"/>
<rect x="305.1" y="307.38" width="11.24" height="85.92" fill="url(#gv)"/>
<rect x="305.1" y="307.38" width="11.24" height="85.92" fill="url(#gd)" mask="url(#mk)" opacity="1"/>
<rect x="305.1" y="307.38" width="11.24" height="85.92" fill="none" stroke="#161616" stroke-width="0.7"/>
<path d="M321.5 360.34 V354.5 M319.2 354.5 H323.8" stroke="#444" stroke-width="1" fill="none"/>
<rect x="316.34" y="360.34" width="11.24" height="32.96" fill="url(#pg)" stroke="#505050" stroke-width="0.8"/>
<path d="M225 257.7 V393.5 H332.3 M221.4 393.5 H225 M221.4 366.28 H225 M221.4 339.26 H225 M221.4 312.24 H225 M221.4 285.22 H225 M221.4 258.2 H225 M225 393.5 V397.8 M278.4 393.5 V397.8 M331.8 393.5 V397.8" stroke="#1c1c1c" stroke-width="1.3" fill="none"/>
<text x="210.66" y="396.59" style="font-family:'Liberation Sans',sans-serif;font-weight:bold;font-size:9.4px" fill="#111" stroke="#111" stroke-width="0.3">0</text>
<text x="205.44" y="369.57" style="font-family:'Liberation Sans',sans-serif;font-weight:bold;font-size:9.4px" fill="#111" stroke="#111" stroke-width="0.3">10</text>
<text x="205.44" y="342.55" style="font-family:'Liberation Sans',sans-serif;font-weight:bold;font-size:9.4px" fill="#111" stroke="#111" stroke-width="0.3">20</text>
<text x="205.44" y="315.53" style="font-family:'Liberation Sans',sans-serif;font-weight:bold;font-size:9.4px" fill="#111" stroke="#111" stroke-width="0.3">30</text>
<text x="205.44" y="288.51" style="font-family:'Liberation Sans',sans-serif;font-weight:bold;font-size:9.4px" fill="#111" stroke="#111" stroke-width="0.3">40</text>
<text x="205.44" y="261.49" style="font-family:'Liberation Sans',sans-serif;font-weight:bold;font-size:9.4px" fill="#111" stroke="#111" stroke-width="0.3">50</text>
<text x="241.95" y="410.29" style="font-family:'Liberation Sans',sans-serif;font-weight:bold;font-size:11.3px" fill="#111" stroke="#111" stroke-width="0.3">1 hr</text>
<text x="295.12" y="410.29" style="font-family:'Liberation Sans',sans-serif;font-weight:bold;font-size:11.3px" fill="#111" stroke="#111" stroke-width="0.3">6 hr</text>
<rect x="233" y="250.6" width="5.4" height="4.8" fill="url(#pcl)" stroke="#555" stroke-width="0.9"/>
<text x="240.69" y="255.5" style="font-family:'Liberation Sans',sans-serif;font-size:8.26px" fill="#111" stroke="#111" stroke-width="0.45">Control</text>
<rect x="283.8" y="250.6" width="5.4" height="4.8" fill="#fff" stroke="#333" stroke-width="0.9"/>
<text x="291.66" y="255.5" style="font-family:'Liberation Sans',sans-serif;font-size:8.26px" fill="#111" stroke="#111" stroke-width="0.45">VitD3</text>
<rect x="233" y="260" width="5.4" height="4.8" fill="url(#gl)" stroke="#222" stroke-width="0.9"/>
<text x="240.44" y="264.6" style="font-family:'Liberation Sans',sans-serif;font-size:8.26px" fill="#111" stroke="#111" stroke-width="0.45">LPS</text>
<rect x="283.8" y="260" width="5.4" height="4.8" fill="url(#pgl)" stroke="#555" stroke-width="0.9"/>
<text x="291.66" y="264.6" style="font-family:'Liberation Sans',sans-serif;font-size:8.26px" fill="#111" stroke="#111" stroke-width="0.45">VitD3+LPS</text>
<line x1="228.4" y1="352.8" x2="257.5" y2="352.8" stroke="#6e6e6e" stroke-width="1.75"/>
<line x1="241.25" y1="342.45" x2="241.25" y2="347.25" stroke="#484848" stroke-width="0.75" stroke-linecap="round"/><line x1="239.44" y1="343.54" x2="243.06" y2="346.16" stroke="#484848" stroke-width="0.75" stroke-linecap="round"/><line x1="243.06" y1="343.54" x2="239.44" y2="346.16" stroke="#484848" stroke-width="0.75" stroke-linecap="round"/>
<line x1="246.55" y1="342.45" x2="246.55" y2="347.25" stroke="#484848" stroke-width="0.75" stroke-linecap="round"/><line x1="244.74" y1="343.54" x2="248.36" y2="346.16" stroke="#484848" stroke-width="0.75" stroke-linecap="round"/><line x1="248.36" y1="343.54" x2="244.74" y2="346.16" stroke="#484848" stroke-width="0.75" stroke-linecap="round"/>
<line x1="282.1" y1="296.5" x2="311" y2="296.5" stroke="#2c2c2c" stroke-width="1.25"/>
<line x1="290" y1="288" x2="290" y2="292.8" stroke="#484848" stroke-width="0.75" stroke-linecap="round"/><line x1="288.19" y1="289.09" x2="291.81" y2="291.71" stroke="#484848" stroke-width="0.75" stroke-linecap="round"/><line x1="291.81" y1="289.09" x2="288.19" y2="291.71" stroke="#484848" stroke-width="0.75" stroke-linecap="round"/>
<line x1="295.3" y1="288" x2="295.3" y2="292.8" stroke="#484848" stroke-width="0.75" stroke-linecap="round"/><line x1="293.49" y1="289.09" x2="297.11" y2="291.71" stroke="#484848" stroke-width="0.75" stroke-linecap="round"/><line x1="297.11" y1="289.09" x2="293.49" y2="291.71" stroke="#484848" stroke-width="0.75" stroke-linecap="round"/>
<line x1="306.2" y1="287.5" x2="326" y2="287.5" stroke="#2c2c2c" stroke-width="1.25"/>
<line x1="312.1" y1="278.9" x2="312.1" y2="283.7" stroke="#484848" stroke-width="0.75" stroke-linecap="round"/><line x1="310.29" y1="279.99" x2="313.91" y2="282.61" stroke="#484848" stroke-width="0.75" stroke-linecap="round"/><line x1="313.91" y1="279.99" x2="310.29" y2="282.61" stroke="#484848" stroke-width="0.75" stroke-linecap="round"/>
<line x1="317.4" y1="278.9" x2="317.4" y2="283.7" stroke="#484848" stroke-width="0.75" stroke-linecap="round"/><line x1="315.59" y1="279.99" x2="319.21" y2="282.61" stroke="#484848" stroke-width="0.75" stroke-linecap="round"/><line x1="319.21" y1="279.99" x2="315.59" y2="282.61" stroke="#484848" stroke-width="0.75" stroke-linecap="round"/>
<text x="349.16" y="232.66" style="font-family:'Liberation Sans',sans-serif;font-size:16.8px" fill="#111" stroke="#111" stroke-width="0.25">G</text>
<text transform="translate(374.6,325.7) rotate(-90)" text-anchor="middle" xml:space="preserve" style="font-family:'Liberation Sans',sans-serif;font-weight:bold;font-size:11.45px" fill="#111" stroke="#111" stroke-width="0.3"><tspan>Relative </tspan><tspan font-style="italic" dx="0.99">vcam-1</tspan><tspan dx="3.95"> mRNA</tspan></text>
<rect x="404.32" y="387.28" width="11.24" height="6.02" fill="url(#pc)" stroke="#333" stroke-width="0.8"/>
<rect x="415.56" y="390.18" width="11.24" height="3.12" fill="#fff" stroke="#222" stroke-width="0.8"/>
<path d="M432.5 342.27 V328.5 M430.2 328.5 H434.8" stroke="#6a6a6a" stroke-width="1" fill="none"/>
<rect x="426.8" y="342.27" width="11.24" height="51.03" fill="url(#gv)"/>
<rect x="426.8" y="342.27" width="11.24" height="51.03" fill="url(#gd)" mask="url(#mk)" opacity="0.72"/>
<rect x="426.8" y="342.27" width="11.24" height="51.03" fill="none" stroke="#161616" stroke-width="0.7"/>
<path d="M443.5 321.58 V307.5 M441.2 307.5 H445.8" stroke="#6a6a6a" stroke-width="1" fill="none"/>
<rect x="438.04" y="321.58" width="11.24" height="71.72" fill="url(#pg)" stroke="#505050" stroke-width="0.8"/>
<rect x="457.72" y="387.39" width="11.24" height="5.91" fill="url(#pc)" stroke="#333" stroke-width="0.8"/>
<path d="M474.5 389 V388.5 M472.2 388.5 H476.8" stroke="#6a6a6a" stroke-width="1" fill="none"/>
<rect x="468.96" y="389" width="11.24" height="4.3" fill="#fff" stroke="#222" stroke-width="0.8"/>
<path d="M485.5 353.17 V350.5 M483.2 350.5 H487.8" stroke="#6a6a6a" stroke-width="1" fill="none"/>
<rect x="480.2" y="353.17" width="11.24" height="40.13" fill="url(#gv)"/>
<rect x="480.2" y="353.17" width="11.24" height="40.13" fill="url(#gd)" mask="url(#mk)" opacity="0.72"/>
<rect x="480.2" y="353.17" width="11.24" height="40.13" fill="none" stroke="#161616" stroke-width="0.7"/>
<path d="M497.5 379.55 V376.5 M495.2 376.5 H499.8" stroke="#6a6a6a" stroke-width="1" fill="none"/>
<rect x="491.44" y="379.55" width="11.24" height="13.75" fill="url(#pg)" stroke="#505050" stroke-width="0.8"/>
<path d="M400.1 258.5 V393.5 H507.4 M396.5 393.5 H400.1 M396.5 366.44 H400.1 M396.5 339.58 H400.1 M396.5 312.72 H400.1 M396.5 285.86 H400.1 M396.5 259 H400.1 M400.1 393.5 V397.8 M453.5 393.5 V397.8 M506.9 393.5 V397.8" stroke="#1c1c1c" stroke-width="1.3" fill="none"/>
<text x="385.66" y="396.59" style="font-family:'Liberation Sans',sans-serif;font-weight:bold;font-size:9.4px" fill="#111" stroke="#111" stroke-width="0.3">0</text>
<text x="385.52" y="369.73" style="font-family:'Liberation Sans',sans-serif;font-weight:bold;font-size:9.4px" fill="#111" stroke="#111" stroke-width="0.3">5</text>
<text x="380.44" y="342.87" style="font-family:'Liberation Sans',sans-serif;font-weight:bold;font-size:9.4px" fill="#111" stroke="#111" stroke-width="0.3">10</text>
<text x="380.3" y="316.01" style="font-family:'Liberation Sans',sans-serif;font-weight:bold;font-size:9.4px" fill="#111" stroke="#111" stroke-width="0.3">15</text>
<text x="380.44" y="289.15" style="font-family:'Liberation Sans',sans-serif;font-weight:bold;font-size:9.4px" fill="#111" stroke="#111" stroke-width="0.3">20</text>
<text x="380.3" y="262.29" style="font-family:'Liberation Sans',sans-serif;font-weight:bold;font-size:9.4px" fill="#111" stroke="#111" stroke-width="0.3">25</text>
<text x="416.85" y="410.29" style="font-family:'Liberation Sans',sans-serif;font-weight:bold;font-size:11.3px" fill="#111" stroke="#111" stroke-width="0.3">1 hr</text>
<text x="470.12" y="410.29" style="font-family:'Liberation Sans',sans-serif;font-weight:bold;font-size:11.3px" fill="#111" stroke="#111" stroke-width="0.3">6 hr</text>
<rect x="408.5" y="249.7" width="5.4" height="4.8" fill="url(#pcl)" stroke="#555" stroke-width="0.9"/>
<text x="415.99" y="254.4" style="font-family:'Liberation Sans',sans-serif;font-size:8.26px" fill="#111" stroke="#111" stroke-width="0.45">Control</text>
<rect x="458.4" y="249.7" width="5.4" height="4.8" fill="#fff" stroke="#333" stroke-width="0.9"/>
<text x="466.46" y="254.4" style="font-family:'Liberation Sans',sans-serif;font-size:8.26px" fill="#111" stroke="#111" stroke-width="0.45">VitD3</text>
<rect x="408.5" y="259.4" width="5.4" height="4.8" fill="url(#gl)" stroke="#222" stroke-width="0.9"/>
<text x="415.74" y="264" style="font-family:'Liberation Sans',sans-serif;font-size:8.26px" fill="#111" stroke="#111" stroke-width="0.45">LPS</text>
<rect x="458.4" y="259.4" width="5.4" height="4.8" fill="url(#pgl)" stroke="#555" stroke-width="0.9"/>
<text x="466.46" y="264" style="font-family:'Liberation Sans',sans-serif;font-size:8.26px" fill="#111" stroke="#111" stroke-width="0.45">VitD3+LPS</text>
<line x1="405.1" y1="322.5" x2="432.1" y2="322.5" stroke="#2c2c2c" stroke-width="1.25"/>
<line x1="417.5" y1="311.85" x2="417.5" y2="316.65" stroke="#484848" stroke-width="0.75" stroke-linecap="round"/><line x1="415.69" y1="312.94" x2="419.31" y2="315.56" stroke="#484848" stroke-width="0.75" stroke-linecap="round"/><line x1="419.31" y1="312.94" x2="415.69" y2="315.56" stroke="#484848" stroke-width="0.75" stroke-linecap="round"/>
<line x1="422.8" y1="311.85" x2="422.8" y2="316.65" stroke="#484848" stroke-width="0.75" stroke-linecap="round"/><line x1="420.99" y1="312.94" x2="424.61" y2="315.56" stroke="#484848" stroke-width="0.75" stroke-linecap="round"/><line x1="424.61" y1="312.94" x2="420.99" y2="315.56" stroke="#484848" stroke-width="0.75" stroke-linecap="round"/>
<line x1="458.9" y1="342.5" x2="486.3" y2="342.5" stroke="#2c2c2c" stroke-width="1.25"/>
<line x1="469.65" y1="334.2" x2="469.65" y2="339" stroke="#484848" stroke-width="0.75" stroke-linecap="round"/><line x1="467.84" y1="335.29" x2="471.46" y2="337.91" stroke="#484848" stroke-width="0.75" stroke-linecap="round"/><line x1="471.46" y1="335.29" x2="467.84" y2="337.91" stroke="#484848" stroke-width="0.75" stroke-linecap="round"/>
<line x1="474.95" y1="334.2" x2="474.95" y2="339" stroke="#484848" stroke-width="0.75" stroke-linecap="round"/><line x1="473.14" y1="335.29" x2="476.76" y2="337.91" stroke="#484848" stroke-width="0.75" stroke-linecap="round"/><line x1="476.76" y1="335.29" x2="473.14" y2="337.91" stroke="#484848" stroke-width="0.75" stroke-linecap="round"/>
<line x1="484.2" y1="335.8" x2="502" y2="335.8" stroke="#4c4c4c" stroke-width="1.8"/>
<line x1="489.65" y1="327.4" x2="489.65" y2="332.2" stroke="#484848" stroke-width="0.75" stroke-linecap="round"/><line x1="487.84" y1="328.49" x2="491.46" y2="331.11" stroke="#484848" stroke-width="0.75" stroke-linecap="round"/><line x1="491.46" y1="328.49" x2="487.84" y2="331.11" stroke="#484848" stroke-width="0.75" stroke-linecap="round"/>
<line x1="494.95" y1="327.4" x2="494.95" y2="332.2" stroke="#484848" stroke-width="0.75" stroke-linecap="round"/><line x1="493.14" y1="328.49" x2="496.76" y2="331.11" stroke="#484848" stroke-width="0.75" stroke-linecap="round"/><line x1="496.76" y1="328.49" x2="493.14" y2="331.11" stroke="#484848" stroke-width="0.75" stroke-linecap="round"/>
<text x="524.86" y="232.89" style="font-family:'Liberation Sans',sans-serif;font-size:16.8px" fill="#111" stroke="#111" stroke-width="0.25">H</text>
<text transform="translate(550.6,325.5) rotate(-90)" text-anchor="middle" xml:space="preserve" style="font-family:'Liberation Sans',sans-serif;font-weight:bold;font-size:11.75px" fill="#111" stroke="#111" stroke-width="0.3"><tspan>Relative </tspan><tspan font-style="italic" dx="0.74">cox-2</tspan><tspan dx="2.96"> mRNA</tspan></text>
<path d="M585.5 382.11 V381.5 M583.2 381.5 H587.8" stroke="#5a5a5a" stroke-width="1" fill="none"/>
<rect x="579.59" y="382.11" width="11.29" height="11.19" fill="url(#pc)" stroke="#333" stroke-width="0.8"/>
<path d="M596.5 381.44 V380.5 M594.2 380.5 H598.8" stroke="#5a5a5a" stroke-width="1" fill="none"/>
<rect x="590.88" y="381.44" width="11.29" height="11.86" fill="#fff" stroke="#222" stroke-width="0.8"/>
<path d="M607.5 319.99 V308.5 M605.2 308.5 H609.8" stroke="#5a5a5a" stroke-width="1" fill="none"/>
<rect x="602.17" y="319.99" width="11.29" height="73.31" fill="url(#gv)"/>
<rect x="602.17" y="319.99" width="11.29" height="73.31" fill="url(#gd)" mask="url(#mk)" opacity="0.72"/>
<rect x="602.17" y="319.99" width="11.29" height="73.31" fill="none" stroke="#161616" stroke-width="0.7"/>
<path d="M619.5 306 V293.5 M617.2 293.5 H621.8" stroke="#5a5a5a" stroke-width="1" fill="none"/>
<rect x="613.47" y="306" width="11.29" height="87.3" fill="url(#pg)" stroke="#505050" stroke-width="0.8"/>
<path d="M638.5 382.11 V381.5 M636.2 381.5 H640.8" stroke="#5a5a5a" stroke-width="1" fill="none"/>
<rect x="633.21" y="382.11" width="11.22" height="11.19" fill="url(#pc)" stroke="#333" stroke-width="0.8"/>
<path d="M650.5 382.11 V381.5 M648.2 381.5 H652.8" stroke="#5a5a5a" stroke-width="1" fill="none"/>
<rect x="644.43" y="382.11" width="11.22" height="11.19" fill="#fff" stroke="#222" stroke-width="0.8"/>
<path d="M661.5 370.92 V364.5 M659.2 364.5 H663.8" stroke="#5a5a5a" stroke-width="1" fill="none"/>
<rect x="655.65" y="370.92" width="11.22" height="22.38" fill="url(#gv)"/>
<rect x="655.65" y="370.92" width="11.22" height="22.38" fill="url(#gd)" mask="url(#mk)" opacity="0.72"/>
<rect x="655.65" y="370.92" width="11.22" height="22.38" fill="none" stroke="#161616" stroke-width="0.7"/>
<path d="M672.5 371.59 V365.5 M670.2 365.5 H674.8" stroke="#5a5a5a" stroke-width="1" fill="none"/>
<rect x="666.87" y="371.59" width="11.22" height="21.71" fill="url(#pg)" stroke="#505050" stroke-width="0.8"/>
<path d="M575.35 258.5 V393.5 H682.8 M571.75 393.5 H575.35 M571.75 359.73 H575.35 M571.75 326.15 H575.35 M571.75 292.57 H575.35 M571.75 259 H575.35 M575.35 393.5 V397.8 M629 393.5 V397.8 M682.3 393.5 V397.8" stroke="#1c1c1c" stroke-width="1.3" fill="none"/>
<text x="561.16" y="396.59" style="font-family:'Liberation Sans',sans-serif;font-weight:bold;font-size:9.4px" fill="#111" stroke="#111" stroke-width="0.3">0</text>
<text x="561.11" y="363.02" style="font-family:'Liberation Sans',sans-serif;font-weight:bold;font-size:9.4px" fill="#111" stroke="#111" stroke-width="0.3">3</text>
<text x="561.11" y="329.44" style="font-family:'Liberation Sans',sans-serif;font-weight:bold;font-size:9.4px" fill="#111" stroke="#111" stroke-width="0.3">6</text>
<text x="561.11" y="295.87" style="font-family:'Liberation Sans',sans-serif;font-weight:bold;font-size:9.4px" fill="#111" stroke="#111" stroke-width="0.3">9</text>
<text x="555.94" y="262.29" style="font-family:'Liberation Sans',sans-serif;font-weight:bold;font-size:9.4px" fill="#111" stroke="#111" stroke-width="0.3">12</text>
<text x="592.03" y="410" style="font-family:'Liberation Sans',sans-serif;font-weight:bold;font-size:10.9px" fill="#111" stroke="#111" stroke-width="0.3">1 hr</text>
<text x="645.49" y="410" style="font-family:'Liberation Sans',sans-serif;font-weight:bold;font-size:10.9px" fill="#111" stroke="#111" stroke-width="0.3">6 hr</text>
<rect x="583.3" y="249.1" width="5.4" height="4.8" fill="url(#pcl)" stroke="#555" stroke-width="0.9"/>
<text x="590.89" y="253.7" style="font-family:'Liberation Sans',sans-serif;font-size:8.26px" fill="#111" stroke="#111" stroke-width="0.45">Control</text>
<rect x="633.9" y="249.1" width="5.4" height="4.8" fill="#fff" stroke="#333" stroke-width="0.9"/>
<text x="641.86" y="253.7" style="font-family:'Liberation Sans',sans-serif;font-size:8.26px" fill="#111" stroke="#111" stroke-width="0.45">VitD3</text>
<rect x="583.3" y="258.2" width="5.4" height="4.8" fill="url(#gl)" stroke="#222" stroke-width="0.9"/>
<text x="590.64" y="262.8" style="font-family:'Liberation Sans',sans-serif;font-size:8.26px" fill="#111" stroke="#111" stroke-width="0.45">LPS</text>
<rect x="633.9" y="258.2" width="5.4" height="4.8" fill="url(#pgl)" stroke="#555" stroke-width="0.9"/>
<text x="641.86" y="262.8" style="font-family:'Liberation Sans',sans-serif;font-size:8.26px" fill="#111" stroke="#111" stroke-width="0.45">VitD3+LPS</text>
<line x1="580.7" y1="300.2" x2="609.6" y2="300.2" stroke="#4c4c4c" stroke-width="1.8"/>
<line x1="592.35" y1="292.5" x2="592.35" y2="297.3" stroke="#484848" stroke-width="0.75" stroke-linecap="round"/><line x1="590.54" y1="293.59" x2="594.16" y2="296.21" stroke="#484848" stroke-width="0.75" stroke-linecap="round"/><line x1="594.16" y1="293.59" x2="590.54" y2="296.21" stroke="#484848" stroke-width="0.75" stroke-linecap="round"/>
<line x1="597.65" y1="292.5" x2="597.65" y2="297.3" stroke="#484848" stroke-width="0.75" stroke-linecap="round"/><line x1="595.84" y1="293.59" x2="599.46" y2="296.21" stroke="#484848" stroke-width="0.75" stroke-linecap="round"/><line x1="599.46" y1="293.59" x2="595.84" y2="296.21" stroke="#484848" stroke-width="0.75" stroke-linecap="round"/>
<line x1="636.6" y1="358.9" x2="664.3" y2="358.9" stroke="#6e6e6e" stroke-width="1.75"/>
<line x1="649.2" y1="351.35" x2="649.2" y2="356.15" stroke="#484848" stroke-width="0.75" stroke-linecap="round"/><line x1="647.39" y1="352.44" x2="651.01" y2="355.06" stroke="#484848" stroke-width="0.75" stroke-linecap="round"/><line x1="651.01" y1="352.44" x2="647.39" y2="355.06" stroke="#484848" stroke-width="0.75" stroke-linecap="round"/>
</svg>
</body></html>
